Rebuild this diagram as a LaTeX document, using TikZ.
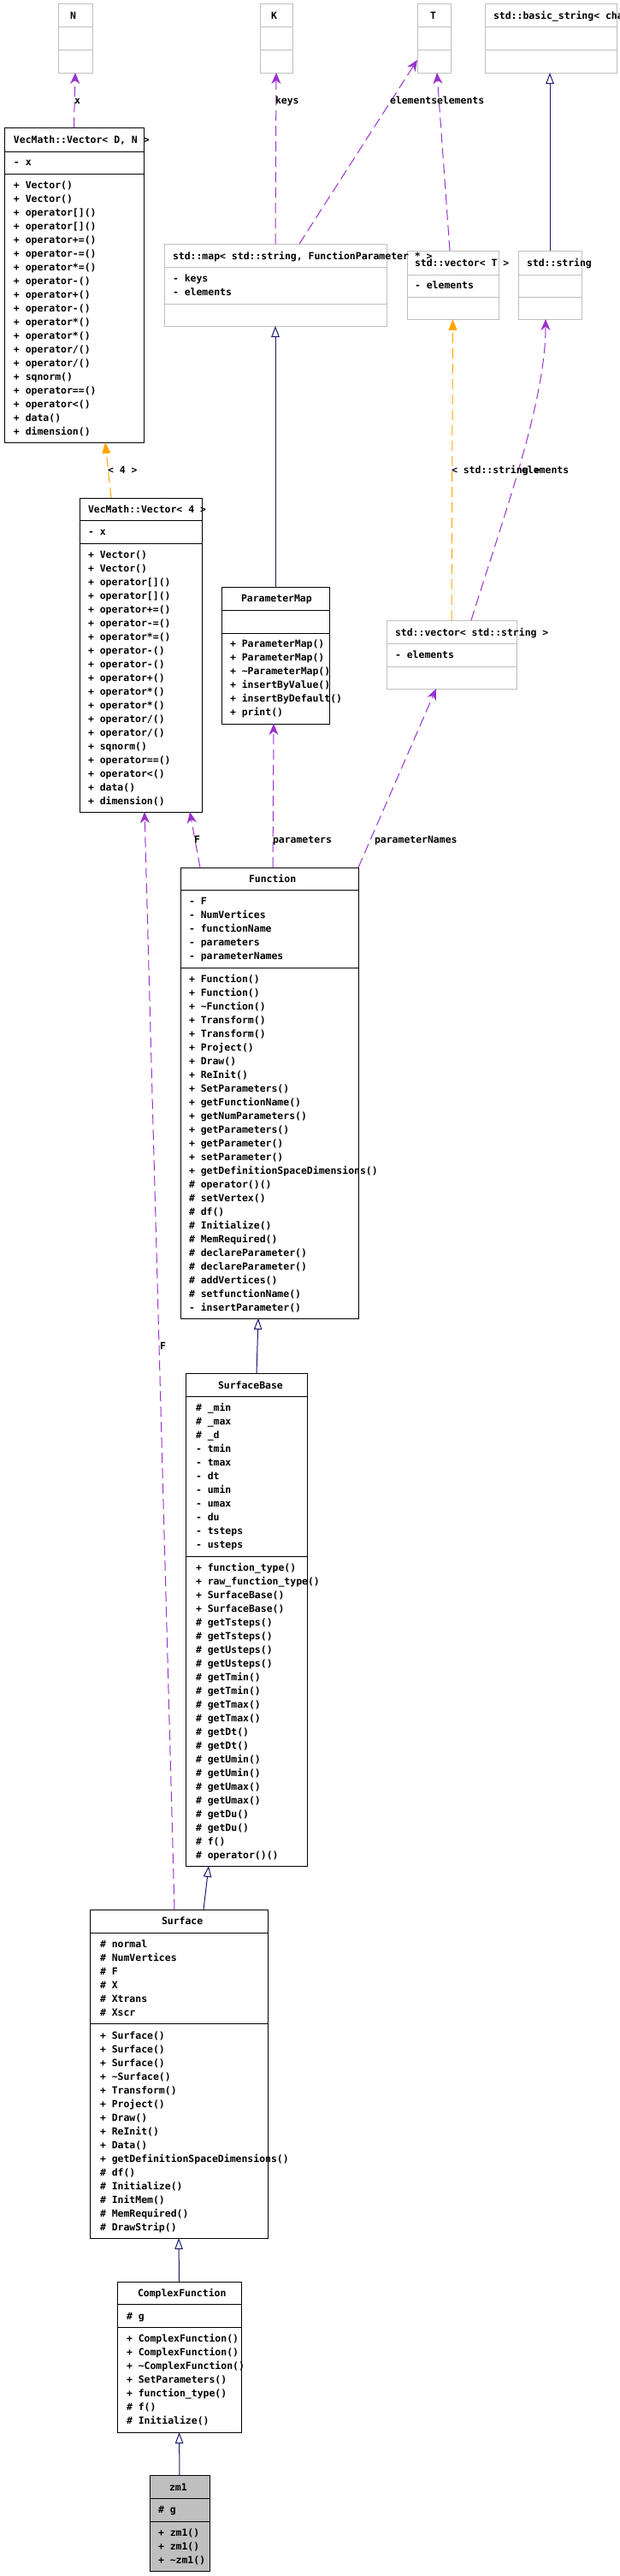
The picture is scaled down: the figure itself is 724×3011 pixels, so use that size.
\documentclass[tikz,border=0pt]{standalone}
\usepackage{fontspec}
\newfontfamily\dxfont{DejaVu Sans Mono}
\usetikzlibrary{arrows.meta}
\definecolor{usecol}{HTML}{9A32CD}
\definecolor{tmplcol}{HTML}{FFA500}
\definecolor{inhcol}{HTML}{191970}
\definecolor{libgray}{HTML}{BFBFBF}
\tikzset{
  txt/.style={anchor=base west, inner sep=0pt, outer sep=0pt, font=\dxfont\bfseries\fontsize{11.46}{13}\selectfont},
  lbl/.style={txt},
  usearrow/.style={draw=usecol, line width=1pt, dash pattern=on 12pt off 6pt, -{Stealth[length=13pt,width=11pt,inset=4pt]}},
  tmplarrow/.style={draw=tmplcol, line width=1pt, dash pattern=on 12pt off 6pt, -{Triangle[length=13pt,width=10pt]}},
  inharrow/.style={draw=inhcol, line width=1pt, -{Triangle[open,length=13pt,width=9.5pt,fill=white]}},
}
% #1 colour, #2 fill, #3 name, #4 x, #5 y, #6 w, #7 h, #8 d1, #9 d2
\newcommand\umlbox[9]{%
  \node[draw=#1, fill=#2, line width=1pt, anchor=north west, inner sep=0pt, outer sep=0pt,
        minimum width=#6pt, minimum height=#7pt] (#3) at (#4,#5) {};
  \draw[draw=#1, line width=1pt] ([yshift=-#8pt]#3.north west) -- ([yshift=-#8pt]#3.north east);
  \draw[draw=#1, line width=1pt] ([yshift=-#9pt]#3.north west) -- ([yshift=-#9pt]#3.north east);
}
% #1 name prefix, #2 x, #3 first baseline, #4 list
\newcommand\rowsat[4]{%
  \foreach \t [count=\i from 0] in {#4} {\node[txt] (#1-\i) at (#2, #3+16*\i) {\t};}%
}
\begin{document}
\begin{tikzpicture}[x=1pt,y=-1pt]
\useasboundingbox (0,0) rectangle (724,3011);
\fill[white] (0,0) rectangle (724,3011);

% ---------- boxes ----------
\umlbox{libgray}{white}{N}{68}{5}{40}{80}{27}{54}
\umlbox{libgray}{white}{K}{304}{5}{38}{80}{27}{54}
\umlbox{libgray}{white}{T}{488}{5}{39}{80}{27}{54}
\umlbox{libgray}{white}{BS}{567}{5}{154}{80}{27}{54}
\umlbox{black}{white}{VDN}{5}{149}{163}{368}{28}{54}
\umlbox{libgray}{white}{Map}{192}{285}{260}{96}{27}{70}
\umlbox{libgray}{white}{VT}{476}{293}{107}{80}{28}{54}
\umlbox{libgray}{white}{Str}{606}{293}{74}{80}{28}{54}
\umlbox{black}{white}{V4}{93}{582}{143}{367}{26}{53}
\umlbox{black}{white}{PM}{259}{686}{126}{160}{27}{54}
\umlbox{libgray}{white}{VS}{452}{725}{152}{80}{27}{54}
\umlbox{black}{white}{Fn}{211}{1014}{208}{527}{26}{117}
\umlbox{black}{white}{SB}{217}{1605}{142}{576}{27}{214}
\umlbox{black}{white}{Sf}{105}{2232}{208}{384}{27}{133}
\umlbox{black}{white}{CF}{137}{2667}{145}{176}{26}{53}
\umlbox{black}{libgray}{Z}{175}{2893}{70}{112}{27}{54}

% ---------- connectors ----------
\draw[usearrow] (VDN.north) -- (N.south);
\draw[usearrow] (Map.north) -- (K.south);
\draw[usearrow] ([xshift=28pt]Map.north) -- ([yshift=-25pt]T.west);
\draw[usearrow] ([xshift=-3.5pt]VT.north) -- ([xshift=3.5pt]T.south);
\draw[inharrow] (Str.north) -- ([xshift=-1pt]BS.south);
\draw[tmplarrow] (VS.north) -- (VT.south);
\draw[usearrow] ([xshift=23pt]VS.north) .. controls (590,600) and (638,470) .. ([xshift=-5pt]Str.south);
\draw[tmplarrow] ([xshift=-34.5pt]V4.north) -- ([xshift=36.5pt]VDN.south);
\draw[inharrow] (PM.north) -- (Map.south);
\draw[usearrow] ([xshift=-81pt]Fn.north) -- ([xshift=57.5pt]V4.south);
\draw[usearrow] ([xshift=4pt]Fn.north) -- ([xshift=-2pt]PM.south);
\draw[usearrow] (Fn.north east) -- ([xshift=-18pt]VS.south);
\draw[usearrow] ([xshift=-5pt]Sf.north) -- ([xshift=4.5pt]V4.south);
\draw[inharrow] ([xshift=12pt]SB.north) -- ([xshift=-13pt]Fn.south);
\draw[inharrow] ([xshift=29pt]Sf.north) -- ([xshift=-44pt]SB.south);
\draw[inharrow] (CF.north) -- (Sf.south);
\draw[inharrow] (Z.north) -- (CF.south);

% ---------- connector labels ----------
\node[lbl] (lx) at (87,121) {x};
\node[lbl] (lkeys) at (322,121) {keys};
\node[lbl] (lel1) at (456,121) {elements};
\node[lbl] (lel2) at (511,121) {elements};
\node[lbl] (l4) at (126,553) {< 4 >};
\node[lbl] (lstr) at (528,553) {< std::string >};
\node[lbl] (lel3) at (610,553) {elements};
\node[lbl] (lF1) at (227,985) {F};
\node[lbl] (lpar) at (319,985) {parameters};
\node[lbl] (lpn) at (438,985) {parameterNames};
\node[lbl] (lF2) at (187,1577) {F};

% ---------- headers ----------
\node[txt] (Nh) at (82,23) {N};
\node[txt] (Kh) at (317,23) {K};
\node[txt] (Th) at (503,23) {T};
\node[txt] (BSh) at (577,23) {std::basic\_string< char >};
\node[txt] (VDNh) at (16,167) {VecMath::Vector< D, N >};
\node[txt] (Maph) at (202,303) {std::map< std::string, FunctionParameter * >};
\node[txt] (VTh) at (485,311) {std::vector< T >};
\node[txt] (Strh) at (616,311) {std::string};
\node[txt] (V4h) at (103,599) {VecMath::Vector< 4 >};
\node[txt] (PMh) at (282,703) {ParameterMap};
\node[txt] (VSh) at (462,743) {std::vector< std::string >};
\node[txt] (Fnh) at (291,1031) {Function};
\node[txt] (SBh) at (255,1623) {SurfaceBase};
\node[txt] (Sfh) at (189,2249) {Surface};
\node[txt] (CFh) at (161,2684) {ComplexFunction};
\node[txt] (Zh) at (198,2911) {zm1};

% ---------- members ----------
\rowsat{VDNa}{16}{193}{- x}
\rowsat{VDNm}{16}{220}{+ Vector(), + Vector(), + operator[](), + operator[](), + operator+=(), + operator-=(), + operator*=(), + operator-(), + operator+(), + operator-(), + operator*(), + operator*(), + operator/(), + operator/(), + sqnorm(), + operator==(), + operator<(), + data(), + dimension()}
\rowsat{Mapa}{202}{329}{- keys, - elements}
\rowsat{VTa}{485}{337}{- elements}
\rowsat{V4a}{103}{625}{- x}
\rowsat{V4m}{103}{652}{+ Vector(), + Vector(), + operator[](), + operator[](), + operator+=(), + operator-=(), + operator*=(), + operator-(), + operator-(), + operator+(), + operator*(), + operator*(), + operator/(), + operator/(), + sqnorm(), + operator==(), + operator<(), + data(), + dimension()}
\rowsat{PMm}{269}{756}{+ ParameterMap(), + ParameterMap(), + \textasciitilde ParameterMap(), + insertByValue(), + insertByDefault(), + print()}
\rowsat{VSa}{462}{769}{- elements}
\rowsat{Fna}{221}{1057}{- F, - NumVertices, - functionName, - parameters, - parameterNames}
\rowsat{Fnm}{221}{1148}{+ Function(), + Function(), + \textasciitilde Function(), + Transform(), + Transform(), + Project(), + Draw(), + ReInit(), + SetParameters(), + getFunctionName(), + getNumParameters(), + getParameters(), + getParameter(), + setParameter(), + getDefinitionSpaceDimensions(), \# operator()(), \# setVertex(), \# df(), \# Initialize(), \# MemRequired(), \# declareParameter(), \# declareParameter(), \# addVertices(), \# setfunctionName(), - insertParameter()}
\rowsat{SBa}{229}{1649}{\# \_min, \# \_max, \# \_d, - tmin, - tmax, - dt, - umin, - umax, - du, - tsteps, - usteps}
\rowsat{SBm}{229}{1836}{+ function\_type(), + raw\_function\_type(), + SurfaceBase(), + SurfaceBase(), \# getTsteps(), \# getTsteps(), \# getUsteps(), \# getUsteps(), \# getTmin(), \# getTmin(), \# getTmax(), \# getTmax(), \# getDt(), \# getDt(), \# getUmin(), \# getUmin(), \# getUmax(), \# getUmax(), \# getDu(), \# getDu(), \# f(), \# operator()()}
\rowsat{Sfa}{117}{2276}{\# normal, \# NumVertices, \# F, \# X, \# Xtrans, \# Xscr}
\rowsat{Sfm}{117}{2383}{+ Surface(), + Surface(), + Surface(), + \textasciitilde Surface(), + Transform(), + Project(), + Draw(), + ReInit(), + Data(), + getDefinitionSpaceDimensions(), \# df(), \# Initialize(), \# InitMem(), \# MemRequired(), \# DrawStrip()}
\rowsat{CFa}{148}{2711}{\# g}
\rowsat{CFm}{148}{2737}{+ ComplexFunction(), + ComplexFunction(), + \textasciitilde ComplexFunction(), + SetParameters(), + function\_type(), \# f(), \# Initialize()}
\rowsat{Za}{185}{2937}{\# g}
\rowsat{Zm}{185}{2964}{+ zm1(), + zm1(), + \textasciitilde zm1()}
\end{tikzpicture}
\end{document}
